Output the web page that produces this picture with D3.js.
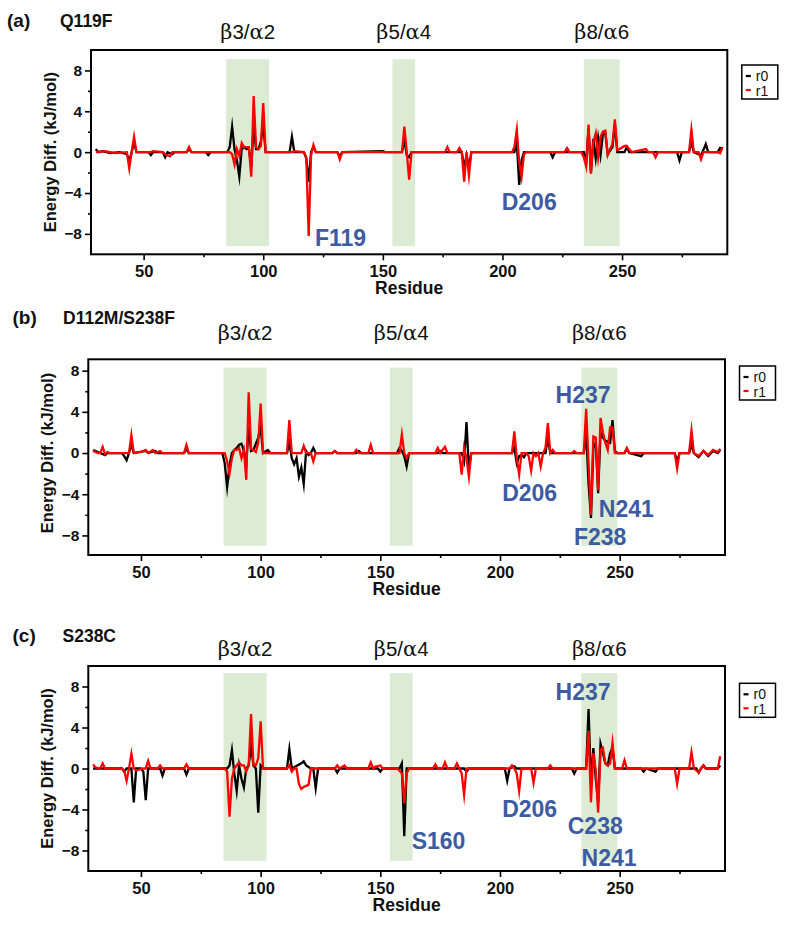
<!DOCTYPE html>
<html><head><meta charset="utf-8">
<script src="https://cdn.jsdelivr.net/npm/d3@7"></script>
<style>
html,body{margin:0;padding:0;background:#fff;}
svg{display:block;}
</style></head>
<body>
<svg id="chart" width="790" height="925"></svg>
<script>
// ---------------- DATA ----------------
const xDomain = [28, 294];
const xMajorTicks = [50, 100, 150, 200, 250];
const xMinorTicks = [75, 125, 175, 225, 275];
const yMajorTicks = [-8, -4, 0, 4, 8];
const yMinorTicks = [-6, -2, 2, 6];
const panelLetters = ["(a)", "(b)", "(c)"];
const mutantNames = ["Q119F", "D112M/S238F", "S238C"];
const seriesNames = ["r0", "r1"];
const bands = [[84.5, 102.5], [154, 163.5], [234, 249]];
const bandLabels = [["β","3/","α","2"], ["β","5/","α","4"], ["β","8/","α","6"]];
const yDomains = [[-10, 10], [-9.9, 9.1], [-10, 10]];
const bandYExtents = [[-9.2, 9.1], [-9.0, 8.3], [-9.0, 9.3]];

const annotA = [["F119", 121.6, -9.19], ["D206", 199.7, -5.67]];
const annotB = [["H237", 223.2, 4.88], ["D206", 200.9, -4.63], ["N241", 241.3, -6.24], ["F238", 230.9, -8.93]];
const annotC = [["H237", 223.2, 6.68], ["S160", 163.1, -7.85], ["D206", 200.9, -4.70], ["C238", 228.3, -6.39], ["N241", 234.1, -9.48]];

// Panel (a) Q119F
const a_r0 = [[30,0.3],[31,0],[33,0.1],[36,-0.1],[40,0],[43,-0.2],[44,-0.9],[45,0],[46,1.0],[47,0],[52,0],[53,-0.3],[54,0],[58,0],[59,-0.5],[60,0],[62,-0.2],[63,0],[68,0],[69,0.3],[70,0],[76,0],[77,-0.3],[78,0],[85,0],[86,0.5],[87,2.5],[88,0.3],[89,-0.8],[90,-2.4],[91,0.3],[92,0.5],[93,0.3],[94,0.4],[95,-1.5],[96,2.6],[97,0.3],[98,0.3],[99,1.0],[100,2.8],[101,0],[111,0],[112,1.5],[113,0],[117,0],[118,-0.6],[119,-2.9],[120,0],[121,0.5],[122,0],[131,0],[132,-0.4],[133,0],[150,0.1],[151,0],[158,0],[159,1.2],[160,-0.3],[161,-0.5],[162,0],[183,0],[184,-1.5],[185,-0.3],[186,-1.5],[187,0],[205,0],[206,1.0],[207,-3.2],[208,-0.8],[209,0],[220,0],[221,-0.5],[222,0],[234,0],[235,-1.0],[236,2.3],[237,-2.0],[238,1.3],[239,-0.6],[240,1.4],[241,-0.3],[242,1.8],[243,1.9],[244,-0.2],[246,0.5],[247,2.8],[248,0],[251,0],[252,0.5],[253,0],[273,0],[274,-0.8],[275,0],[278,0],[279,1.0],[280,0],[283,-0.3],[284,0.2],[285,0.8],[286,0],[290,0],[291,0.4],[292,0.3]];
const a_r1 = [[30,0],[34,0.1],[38,-0.1],[43,0],[44,-1.6],[45,0],[46,1.5],[47,0],[53,0],[54,0.1],[58,0],[59,-0.2],[61,-0.4],[62,0],[68,0],[69,0.5],[70,0],[86,0],[87,-0.2],[88,-1.2],[89,0.3],[90,-0.4],[91,0.9],[92,0.5],[93,0.5],[94,0.5],[95,-2.4],[96,5.5],[97,0.5],[98,0.3],[99,0.6],[100,4.8],[101,0],[112,0],[113,0.1],[117,0],[118,-0.5],[119,-8.2],[120,-0.3],[121,0.7],[122,0],[131,0],[132,-0.7],[133,0],[158,0],[159,2.5],[160,0],[161,-2.7],[162,0],[176,0],[177,0.5],[178,0],[181,0],[182,0.4],[183,0],[184,-2.9],[185,0],[186,-2.3],[187,0],[204,0],[205,0.5],[206,2.2],[207,-1.0],[208,-2.4],[209,-0.2],[210,0],[226,0],[227,0.4],[228,0],[233,0],[234,-0.5],[235,-1.4],[236,2.7],[237,-2.1],[238,1.0],[239,1.85],[240,-0.5],[241,1.5],[242,2.0],[243,2.1],[244,-0.3],[245,0.3],[246,0.8],[247,3.2],[248,0.2],[249,0.3],[251,0.6],[252,0.6],[254,0],[260,0.3],[261,0],[263,0],[264,-0.5],[265,0],[278,0],[279,2.2],[280,0],[282,0],[283,-0.7],[284,0],[290,0],[291,-0.1],[292,0.5]];

// Panel (b) D112M/S238F
const b_r0 = [[30,0.3],[31,0.2],[33,0],[35,-0.2],[36,0],[42,0],[43,-0.3],[44,-0.7],[45,0],[46,0.8],[47,0],[52,0.2],[53,0],[56,0.2],[57,0],[68,0],[69,0.4],[70,0],[84,0],[85,-1.0],[86,-3.3],[87,-1.2],[88,0],[89,0.3],[90,0.5],[91,0.8],[92,0.9],[93,0.2],[94,-1.0],[95,2.5],[96,0.2],[97,0.3],[99,1.5],[100,2.5],[101,0],[103,0.3],[104,0],[111,0],[112,1.0],[113,-0.5],[114,-1.1],[115,-0.5],[116,-2.3],[117,-1.4],[118,-3.0],[119,0.2],[120,-0.2],[121,0],[122,0.5],[123,0],[130,0],[131,0.2],[132,0],[140,0],[141,0.2],[142,0],[157,0],[158,0.5],[159,0.2],[160,-0.3],[161,-1.3],[162,0],[174,0],[175,0.2],[176,0],[184,0],[185,-0.8],[186,3.0],[187,-1.5],[188,0],[205,0],[206,0.5],[207,-1.0],[208,-0.3],[209,-0.2],[210,-0.4],[211,0],[219,0],[220,1.5],[221,0],[235,0],[236,2.0],[237,-3.0],[238,-6.3],[239,0.5],[240,1.0],[241,-3.9],[242,2.0],[243,1.5],[244,1.2],[246,1.0],[247,3.2],[248,0.2],[249,0],[252,0],[253,0.4],[254,0],[259,-0.3],[260,0],[273,0],[274,-0.8],[275,0],[279,0],[280,0.8],[281,0],[283,-0.4],[285,0.2],[287,-0.3],[289,0.2],[291,0],[292,0.3]];
const b_r1 = [[30,0.2],[32,0],[33,0],[34,0.6],[35,-0.1],[36,0.1],[37,0],[45,0],[46,1.75],[47,0],[50,0.1],[52,0.3],[53,0],[55,0.3],[56,0],[58,0.2],[59,0],[68,0],[69,0.8],[70,0],[85,0],[86,-0.8],[87,-2.0],[88,-0.5],[89,0.3],[90,0.3],[91,0.5],[92,-0.5],[93,0.3],[94,-2.6],[95,5.9],[96,0.4],[97,0.3],[98,0.1],[99,1.0],[100,4.8],[101,0],[111,0],[112,3.2],[113,0],[117,0],[118,0.7],[119,0],[121,0],[122,-0.8],[123,0],[130,0],[131,0.2],[132,0],[139,0],[140,0.3],[141,0],[145,0],[146,0.8],[147,0],[158,0],[159,1.8],[160,0],[161,-0.5],[162,0],[173,0],[174,0.5],[175,0],[177,0.6],[178,0],[183,0],[184,-2.1],[185,0.5],[186,-0.5],[187,-2.3],[188,0],[205,0],[206,2.1],[207,-0.5],[208,-2.1],[209,0],[211,0],[212,-0.3],[213,-1.7],[214,0],[215,-0.3],[216,0],[217,-1.3],[218,0],[219,0.5],[220,2.9],[221,0],[222,0.3],[223,0],[230,0],[231,0.2],[232,0],[235,0],[236,4.3],[237,-1.0],[238,-6.0],[239,1.6],[240,1.5],[241,-3.6],[242,3.4],[243,2.0],[244,1.0],[245,0.3],[246,2.5],[247,2.5],[248,0],[252,0],[253,0.5],[254,0],[273,0],[274,-1.5],[275,0],[279,0],[280,2.2],[281,0],[283,-0.3],[285,0.2],[287,-0.2],[289,0.3],[291,0.1],[292,0.4]];

// Panel (c) S238C
const c_r0 = [[30,0],[40,0],[42,0],[43,-0.3],[44,0],[46,0],[47,-3.3],[48,0],[50,0],[51,-0.3],[52,-3.1],[53,0],[58,0],[59,-0.7],[60,0],[68,0],[69,-0.6],[70,0],[86,0],[87,0.3],[88,1.8],[89,-0.5],[90,-2.2],[91,0.3],[92,-1.0],[93,-1.85],[94,0],[95,0.3],[96,2.2],[97,0.3],[98,0],[99,-4.3],[100,0.3],[101,0],[111,0],[112,1.9],[113,0],[117,0.5],[118,0.7],[119,0.3],[121,0],[122,0],[123,-1.9],[124,0],[131,0],[132,-0.4],[133,0],[149,0],[150,-0.3],[151,0],[158,0],[159,0.5],[160,-6.6],[161,0],[170,0],[185,0],[186,-0.3],[187,0],[202,0],[203,-1.2],[204,0],[206,0.2],[207,0],[210,0],[230,0],[231,-0.5],[232,0],[236,0],[237,5.8],[238,-1.5],[239,2.0],[240,-1.0],[241,-3.3],[242,2.4],[243,1.5],[244,0.5],[245,0.3],[246,1.5],[247,2.0],[248,0],[259,0],[260,-0.3],[261,0],[265,-0.3],[266,0],[282,0],[283,-0.4],[284,0],[285,0.3],[286,0],[291,0],[292,0.3]];
const c_r1 = [[30,0.4],[31,0.1],[33,0],[34,0.5],[35,0],[42,0],[43,-0.2],[44,-1.2],[45,0],[46,1.45],[47,0],[48,-0.2],[51,0],[52,0],[53,0.75],[54,0],[57,0],[58,0.3],[59,0],[68,0],[69,0.4],[70,0],[85,0],[86,-0.3],[87,-4.7],[88,-1.0],[89,0],[90,0.3],[91,0.6],[92,0.3],[93,0.3],[94,-0.3],[95,0.3],[96,5.3],[97,0.3],[98,0.3],[99,1.0],[100,4.6],[101,0],[111,0],[112,0.3],[113,-0.3],[114,0],[115,0],[116,-1.5],[117,-2.0],[118,-1.8],[119,-1.7],[120,-1.6],[121,0],[131,0],[132,0.3],[133,0],[135,0.3],[136,0],[145,0],[146,0.6],[147,0],[148,0.2],[150,0.3],[151,0],[157,0],[158,-0.2],[159,-0.5],[160,-3.4],[161,-0.5],[162,0],[172,0],[173,0.4],[174,0],[176,0],[177,0.6],[178,0],[181,0],[182,0.5],[183,0],[184,-0.5],[185,-2.55],[186,0],[204,0],[205,0.3],[206,0],[207,-0.5],[208,-2.2],[209,0],[213,0],[214,-1.4],[215,0],[220,0],[221,0.3],[222,0],[236,0],[237,3.7],[238,-3.3],[239,1.5],[240,-0.2],[241,-4.3],[242,1.8],[243,2.0],[244,0.5],[245,0.3],[246,0.5],[247,2.5],[248,0],[251,0],[252,0.8],[253,0],[273,0],[274,-1.5],[275,0],[279,0],[280,1.6],[281,0],[283,-0.4],[284,0],[285,0.3],[286,0],[290,0],[291,0],[292,1.2]];

// ---------------- LAYOUT ----------------
const panels = [
  {left: 91,   right: 727.3, top: 50,    bottom: 254.3, letterX: 7,    nameX: 60,   titleY: 26.5,  bandLabelY: 39,    legendY: 65,    series: [a_r0, a_r1], annot: annotA},
  {left: 88.3, right: 725,   top: 359.3, bottom: 555,   letterX: 12.5, nameX: 63,   titleY: 323.5, bandLabelY: 339.5, legendY: 366,   series: [b_r0, b_r1], annot: annotB},
  {left: 88.3, right: 725,   top: 666,   bottom: 871,   letterX: 12.5, nameX: 62.5, titleY: 641.5, bandLabelY: 656,   legendY: 683.3, series: [c_r0, c_r1], annot: annotC}
];
const colors = ["#000000", "#ff0000"];
const SANS = "'Liberation Sans', Arial, Helvetica, sans-serif";
const SERIF = "'DejaVu Serif', 'Liberation Serif', serif";
const NARROW = "'Liberation Sans Narrow', 'Arial Narrow', sans-serif";

const svg = d3.select("#chart");

panels.forEach((p, i) => {
  const g = svg.append("g");
  const x = d3.scaleLinear().domain(xDomain).range([p.left, p.right]);
  const y = d3.scaleLinear().domain(yDomains[i]).range([p.bottom, p.top]);

  // bands
  g.selectAll("rect.band").data(bands).join("rect")
    .attr("class", "band")
    .attr("x", d => x(d[0]))
    .attr("width", d => x(d[1]) - x(d[0]))
    .attr("y", y(bandYExtents[i][1]))
    .attr("height", y(bandYExtents[i][0]) - y(bandYExtents[i][1]))
    .attr("fill", "#dcebd3");

  // band labels
  bands.forEach((b, k) => {
    const t = g.append("text")
      .attr("x", x((b[0] + b[1]) / 2))
      .attr("y", p.bandLabelY)
      .attr("text-anchor", "middle")
      .attr("fill", "#111");
    bandLabels[k].forEach((s, j) => {
      t.append("tspan").text(s)
        .attr("font-family", (j % 2 === 0) ? SERIF : SANS)
        .attr("font-size", (j % 2 === 0) ? 21 : 20.5);
    });
  });

  // lines
  const line = d3.line().x(d => x(d[0])).y(d => y(d[1]));
  p.series.forEach((s, k) => {
    g.append("path").datum(s)
      .attr("d", line)
      .attr("fill", "none")
      .attr("stroke", colors[k])
      .attr("stroke-width", 2.3)
      .attr("stroke-linejoin", "miter")
      .attr("stroke-miterlimit", 10);
  });

  // axes
  const xAxisMaj = d3.axisBottom(x).tickValues(xMajorTicks).tickSize(6).tickPadding(5).tickFormat(d3.format("d"));
  const xAxisMin = d3.axisBottom(x).tickValues(xMinorTicks).tickSize(3).tickFormat("");
  const yAxisMaj = d3.axisLeft(y).tickValues(yMajorTicks).tickSize(6).tickPadding(3).tickFormat(d3.format("d"));
  const yAxisMin = d3.axisLeft(y).tickValues(yMinorTicks).tickSize(3).tickFormat("");

  [[xAxisMaj, "x"], [xAxisMin, "x"], [yAxisMaj, "y"], [yAxisMin, "y"]].forEach(([ax, t]) => {
    const ag = g.append("g")
      .attr("transform", t === "x" ? `translate(0,${p.bottom})` : `translate(${p.left},0)`)
      .call(ax);
    ag.select(".domain").remove();
    ag.selectAll(".tick line").attr("stroke", "#000").attr("stroke-width", 1.6);
    ag.selectAll(".tick text")
      .attr("font-family", SANS)
      .attr("font-weight", "bold")
      .attr("font-size", t === "x" ? 16.5 : 15.5)
      .attr("fill", "#111");
  });

  // frame
  g.append("rect")
    .attr("x", p.left).attr("y", p.top)
    .attr("width", p.right - p.left).attr("height", p.bottom - p.top)
    .attr("fill", "none").attr("stroke", "#000").attr("stroke-width", 2);

  // axis titles
  g.append("text")
    .attr("x", (p.left + p.right) / 2)
    .attr("y", p.bottom + 39.5)
    .attr("text-anchor", "middle")
    .attr("font-family", SANS).attr("font-weight", "bold").attr("font-size", 17.5)
    .attr("fill", "#111")
    .text("Residue");
  const ly = y(0);
  g.append("text")
    .attr("transform", `translate(${p.left - 35},${ly}) rotate(-90)`)
    .attr("text-anchor", "middle")
    .attr("font-family", SANS).attr("font-weight", "bold").attr("font-size", 16.5)
    .attr("fill", "#111")
    .text("Energy Diff. (kJ/mol)");

  // panel titles
  g.append("text").attr("x", p.letterX).attr("y", p.titleY)
    .attr("font-family", SANS).attr("font-weight", "bold").attr("font-size", 19)
    .attr("fill", "#111").text(panelLetters[i]);
  g.append("text").attr("x", p.nameX).attr("y", p.titleY)
    .attr("font-family", SANS).attr("font-weight", "bold").attr("font-size", 17.5)
    .attr("fill", "#111").text(mutantNames[i]);

  // annotations
  g.selectAll("text.annot").data(p.annot).join("text")
    .attr("class", "annot")
    .attr("x", d => x(d[1]))
    .attr("y", d => y(d[2]))
    .attr("font-family", SANS).attr("font-weight", "bold").attr("font-size", 23)
    .attr("fill", "#3c5ba3")
    .text(d => d[0]);

  // legend
  const lx = p.right + 14.5, lyy = p.legendY;
  const lg = g.append("g").attr("transform", `translate(${lx},${lyy})`);
  lg.append("rect").attr("width", 36).attr("height", 34)
    .attr("fill", "#fff").attr("stroke", "#000").attr("stroke-width", 1.5);
  seriesNames.forEach((n, k) => {
    lg.append("line")
      .attr("x1", 4).attr("x2", 9)
      .attr("y1", 11 + k * 14).attr("y2", 11 + k * 14)
      .attr("stroke", colors[k]).attr("stroke-width", 2.2);
    lg.append("text")
      .attr("x", 14).attr("y", 15.5 + k * 15)
      .attr("font-family", NARROW).attr("font-size", 14)
      .attr("fill", "#111")
      .text(n);
  });
});
</script>
</body></html>
